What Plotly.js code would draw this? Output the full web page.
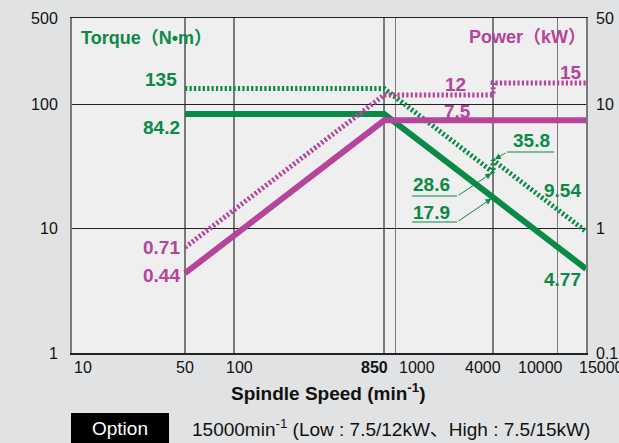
<!DOCTYPE html>
<html>
<head>
<meta charset="utf-8">
<script src="https://cdn.plot.ly/plotly-3.0.1.min.js"></script>
<style>
  html, body { margin: 0; padding: 0; background: #e1e2e4; }
  #chart { width: 619px; height: 443px; }
</style>
</head>
<body>
<div id="chart"></div>
<script>
// ---- data ----
const torqueLowSpeed  = [50, 850, 4000, 15000];
const torqueLowValue  = [84.2, 84.2, 17.9, 4.77];
const torqueHighSpeed = [50, 850, 4000, 4000, 15000];
const torqueHighValue = [135, 135, 28.6, 35.8, 9.54];
const powerLowSpeed   = [50, 850, 15000];
const powerLowValue   = [0.44, 7.5, 7.5];
const powerHighSpeed  = [50, 850, 4000, 4000, 15000];
const powerHighValue  = [0.71, 12, 12, 15, 15];
const xTickVals  = [10, 50, 100, 850, 1000, 4000, 10000, 15000];
const xTickText  = ['10', '50', '100', '850', '1000', '4000', '10000', '15000'];
const yTickVals  = [1, 10, 100, 500];
const yTickText  = ['1', '10', '100', '500'];
const y2TickVals = [0.1, 1, 10, 50];
const y2TickText = ['0.1', '1', '10', '50'];

const GREEN = '#0a8a46';
const PINK  = '#b5449a';
const L = Math.log10;
const W = 619, H = 443, ML = 72, MR = 33, MT = 18, MB = 90;
const PW = W - ML - MR, PH = H - MT - MB;
const px = x => (x - ML) / PW;
const py = y => (H - MB - y) / PH;

const traces = [
  {x: powerHighSpeed, y: powerHighValue, yaxis: 'y2', mode: 'lines',
   line: {color: PINK, width: 5, dash: '2.2px,2.2px'}, hoverinfo: 'skip'},
  {x: powerLowSpeed, y: powerLowValue, yaxis: 'y2', mode: 'lines',
   line: {color: PINK, width: 6}, hoverinfo: 'skip'},
  {x: torqueHighSpeed, y: torqueHighValue, mode: 'lines',
   line: {color: GREEN, width: 5, dash: '2.2px,2.2px'}, hoverinfo: 'skip'},
  {x: torqueLowSpeed, y: torqueLowValue, mode: 'lines',
   line: {color: GREEN, width: 6}, hoverinfo: 'skip'}
];

const annotations = [];
function lab(text, x, y, xanchor, color, size, family) {
  annotations.push({
    text: '<b>' + text + '</b>',
    xref: 'paper', yref: 'paper', x: px(x), y: py(y),
    xanchor: xanchor, yanchor: 'middle', showarrow: false,
    font: {color: color, size: size, family: family}
  });
}
const TITLE_FONT = 'Liberation Sans, "Noto Sans CJK JP", sans-serif';
// titles inside plot
lab('Torque（N•m）', 79, 38, 'left', GREEN, 18, TITLE_FONT);
lab('Power（kW）', 588, 37, 'right', PINK, 18, TITLE_FONT);
// torque values
lab(String(torqueHighValue[0]), 179, 79, 'right', GREEN, 19);
lab(String(torqueLowValue[0]), 182, 128, 'right', GREEN, 19);
lab(String(torqueHighValue[2]), 411, 184, 'left', GREEN, 19);
lab(String(torqueLowValue[2]), 411, 212, 'left', GREEN, 19);
lab(String(torqueHighValue[3]), 511, 140, 'left', GREEN, 19);
lab(String(torqueHighValue[4]), 583, 190, 'right', GREEN, 19);
lab(String(torqueLowValue[3]), 583, 279, 'right', GREEN, 19);
// power values
lab(String(powerHighValue[0]), 182, 247, 'right', PINK, 19);
lab(String(powerLowValue[0]), 182, 275, 'right', PINK, 19);
lab(String(powerHighValue[1]), 455, 84, 'center', PINK, 19);
lab(String(powerLowValue[1]), 457, 111, 'center', PINK, 19);
lab(String(powerHighValue[4]), 584, 72, 'right', PINK, 19);

// x tick labels
const xLabPos = [[72,'left'],[185,'center'],[239,'center'],[390,'right'],[397,'left'],[483,'center'],[540,'center'],[577,'left']];
xTickText.forEach((t, i) => {
  annotations.push({
    text: xTickVals[i] === 850 ? '<b>' + t + '</b>' : t,
    xref: 'paper', yref: 'paper', x: px(xLabPos[i][0]), y: py(368),
    xanchor: xLabPos[i][1], yanchor: 'middle', showarrow: false,
    font: {color: '#111', size: 16}
  });
});
// axis title
annotations.push({
  text: '<b>Spindle Speed (min<sup>-1</sup>)</b>', xref: 'paper', yref: 'paper',
  x: px(328), y: py(392), xanchor: 'center', yanchor: 'middle', showarrow: false,
  font: {color: '#111', size: 19}
});
// option caption
const CAP_FONT = 'Liberation Sans, "Noto Sans CJK JP", sans-serif';
annotations.push({
  text: 'Option', xref: 'paper', yref: 'paper', x: px(120), y: py(428),
  xanchor: 'center', yanchor: 'middle', showarrow: false,
  font: {color: '#fff', size: 19, family: CAP_FONT}
});
annotations.push({
  text: '15000min<sup>-1</sup> (Low : 7.5/12kW、High : 7.5/15kW)', xref: 'paper', yref: 'paper',
  x: px(190), y: py(428), xanchor: 'left', yanchor: 'middle', showarrow: false,
  font: {color: '#111', size: 19, family: CAP_FONT}
});
// leader arrows to the 4000 min-1 points
function arrow(v, ax, ay) {
  annotations.push({
    text: '', xref: 'x', yref: 'y', x: L(4000), y: L(v), ax: ax, ay: ay,
    showarrow: true, arrowhead: 2, arrowsize: 1.2, arrowwidth: 1, arrowcolor: GREEN, standoff: 2
  });
}
arrow(torqueHighValue[2], -36, 24);
arrow(torqueLowValue[2], -36, 24.5);
arrow(torqueHighValue[3], 14, -8);

const shapes = [
  {type: 'line', xref: 'paper', yref: 'paper', x0: px(412), x1: px(457), y0: py(196), y1: py(196), line: {color: GREEN, width: 1}},
  {type: 'line', xref: 'paper', yref: 'paper', x0: px(412), x1: px(457), y0: py(222), y1: py(222), line: {color: GREEN, width: 1}},
  {type: 'line', xref: 'paper', yref: 'paper', x0: px(507), x1: px(554), y0: py(152), y1: py(152), line: {color: GREEN, width: 1}},
  {type: 'rect', xref: 'paper', yref: 'paper', x0: px(71), x1: px(169), y0: py(413), y1: py(445), fillcolor: '#000', line: {width: 0}, layer: 'below'}
];

const layout = {
  width: W, height: H,
  margin: {l: ML, r: MR, t: MT, b: MB, pad: 0},
  paper_bgcolor: '#e1e2e4', plot_bgcolor: '#efefef',
  font: {family: 'Liberation Sans, Arial, sans-serif', color: '#111'},
  showlegend: false,
  xaxis: {type: 'log', range: [L(10), L(15000)], tickvals: xTickVals, ticktext: xTickText,
          showticklabels: false, ticks: '', showgrid: true, gridcolor: '#7a7a7a', gridwidth: 1.6,
          showline: true, linecolor: '#222', linewidth: 1.5, mirror: true, zeroline: false, fixedrange: true},
  yaxis: {type: 'log', range: [L(1), L(500)], tickvals: yTickVals, ticktext: yTickText,
          ticks: '', ticklabelstandoff: 9, tickfont: {size: 16, color: '#111'},
          showgrid: true, gridcolor: '#222', gridwidth: 1,
          showline: true, linecolor: '#7a7a7a', linewidth: 2, mirror: true, zeroline: false, fixedrange: true},
  yaxis2: {type: 'log', range: [L(0.1), L(50)], overlaying: 'y', side: 'right',
           tickvals: y2TickVals, ticktext: y2TickText, ticks: '', ticklabelstandoff: 9,
           tickfont: {size: 16, color: '#111'}, showgrid: false, showline: false, zeroline: false, fixedrange: true},
  annotations: annotations,
  shapes: shapes
};

Plotly.newPlot('chart', traces, layout, {displayModeBar: false, staticPlot: true});
</script>
</body>
</html>
